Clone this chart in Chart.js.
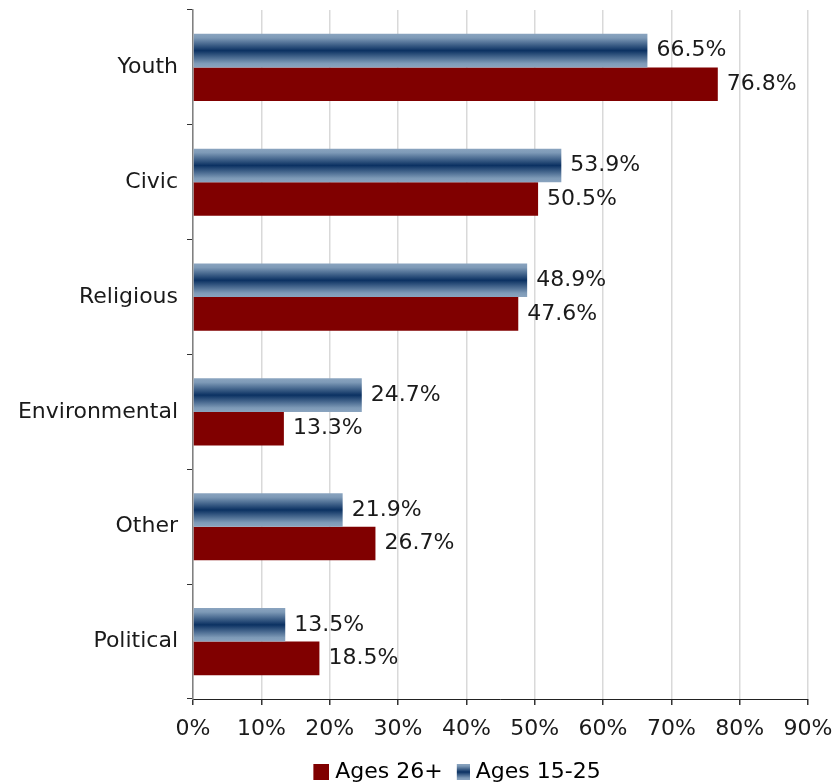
<!DOCTYPE html>
<html>
<head>
<meta charset="utf-8">
<script src="https://cdn.jsdelivr.net/npm/chart.js@4/dist/chart.umd.min.js"></script>
<style>
    html, body { margin: 0; padding: 0; background: #fff; }
    #wrap { width: 836px; height: 784px; }
</style>
</head>
<body>
<div id="wrap"><canvas id="volunteerChart" width="836" height="784"></canvas></div>
<script>
// Share of volunteers by organisation type, two age groups
const categories = ['Youth', 'Civic', 'Religious', 'Environmental', 'Other', 'Political'];
const ages15to25 = [66.5, 53.9, 48.9, 24.7, 21.9, 13.5];
const ages26plus = [76.8, 50.5, 47.6, 13.3, 26.7, 18.5];
const xTicks = [0, 10, 20, 30, 40, 50, 60, 70, 80, 90];

const FONT = 'Verdana, "DejaVu Sans", sans-serif';
const FONT_SIZE = 22;
const TEXT_COLOR = '#1a1a1a';
const RED = '#800000';
const CAT_PCT = 0.585;
const LEGEND_BOX = 19;

// Steel blue fading to navy in the middle of the bar
function blueGradient(ctx, top, bottom) {
    const g = ctx.createLinearGradient(0, top, 0, bottom);
    g.addColorStop(0, '#8aa4bf');
    g.addColorStop(0.12, '#7e9ab7');
    g.addColorStop(0.5, '#0b3162');
    g.addColorStop(0.88, '#7e9ab7');
    g.addColorStop(1, '#8aa4bf');
    return g;
}

// Background for the younger group's bars, computed from the category scale
function youngBarFill(context) {
    const chart = context.chart;
    const y = chart.scales.y;
    if (!y || context.dataIndex === undefined) return '#4a6a90';
    const center = y.getPixelForValue(context.dataIndex);
    const catH = y.height / categories.length;
    const barH = catH * CAT_PCT / 2;
    return blueGradient(chart.ctx, center - barH, center);
}

// Legend swatch: a coloured square pushed to the right end of the image,
// so it sits close to its label text
function swatch(w, h, fill) {
    const c = document.createElement('canvas');
    c.width = LEGEND_BOX + 10;
    c.height = h;
    const cx = c.getContext('2d');
    cx.fillStyle = fill === 'blue' ? blueGradient(cx, 0, h) : fill;
    cx.fillRect(c.width - w, 0, w, h);
    return c;
}
const redSwatch = swatch(16, 16, RED);
const blueSwatch = swatch(13, 16, 'blue');

// Value labels to the right of every bar
const valueLabels = {
    id: 'valueLabels',
    afterDatasetsDraw(chart) {
        const ctx = chart.ctx;
        ctx.save();
        ctx.font = `${FONT_SIZE}px ${FONT}`;
        ctx.fillStyle = TEXT_COLOR;
        ctx.textAlign = 'left';
        ctx.textBaseline = 'middle';
        chart.data.datasets.forEach((ds, di) => {
            chart.getDatasetMeta(di).data.forEach((bar, i) => {
                ctx.fillText(ds.data[i].toFixed(1) + '%', bar.x + 9, bar.y);
            });
        });
        ctx.restore();
    }
};

// Nudge the legend a bit right and down from where the layout puts it
const legendShift = {
    id: 'legendShift',
    afterLayout(chart) {
        const lg = chart.legend;
        if (!lg) return;
        lg.left += 49;
        lg.right += 49;
        lg.top += 9;
        lg.bottom += 9;
    }
};

new Chart(document.getElementById('volunteerChart'), {
    type: 'bar',
    data: {
        labels: categories,
        datasets: [
            {
                label: 'Ages 15-25',
                data: ages15to25,
                backgroundColor: youngBarFill,
                categoryPercentage: CAT_PCT,
                barPercentage: 1
            },
            {
                label: 'Ages 26+',
                data: ages26plus,
                backgroundColor: RED,
                categoryPercentage: CAT_PCT,
                barPercentage: 1
            }
        ]
    },
    options: {
        indexAxis: 'y',
        responsive: false,
        animation: false,
        layout: { padding: { top: 10, right: 28, left: 0, bottom: 0 } },
        scales: {
            x: {
                min: 0,
                max: 90,
                afterBuildTicks: scale => { scale.ticks = xTicks.map(v => ({ value: v })); },
                afterFit: scale => {
                    scale.height = 50;
                    scale.paddingLeft = 0;
                    scale.paddingRight = 0;
                },
                ticks: {
                    callback: v => v + '%',
                    color: TEXT_COLOR,
                    font: { family: FONT, size: FONT_SIZE },
                    padding: 11,
                    maxRotation: 0
                },
                grid: {
                    color: '#d9d9d9',
                    lineWidth: 1.5,
                    tickColor: '#333',
                    tickLength: 6
                },
                border: { color: '#222', width: 1 }
            },
            y: {
                afterFit: scale => {
                    scale.width = 193;
                    scale.paddingTop = 0;
                    scale.paddingBottom = 0;
                },
                ticks: {
                    color: TEXT_COLOR,
                    font: { family: FONT, size: FONT_SIZE },
                    padding: 9
                },
                grid: {
                    drawOnChartArea: false,
                    tickColor: '#333',
                    tickLength: 6
                },
                border: { color: '#808080', width: 1.5 }
            }
        },
        plugins: {
            legend: {
                position: 'bottom',
                labels: {
                    color: TEXT_COLOR,
                    font: { family: FONT, size: FONT_SIZE },
                    usePointStyle: true,
                    pointStyleWidth: LEGEND_BOX,
                    padding: 3,
                    generateLabels: () => [
                        { text: 'Ages 26+', pointStyle: redSwatch, fillStyle: RED, strokeStyle: RED, lineWidth: 0, datasetIndex: 1 },
                        { text: 'Ages 15-25', pointStyle: blueSwatch, fillStyle: '#4a6a90', strokeStyle: '#4a6a90', lineWidth: 0, datasetIndex: 0 }
                    ]
                }
            },
            tooltip: { enabled: false }
        }
    },
    plugins: [valueLabels, legendShift]
});
</script>
</body>
</html>
